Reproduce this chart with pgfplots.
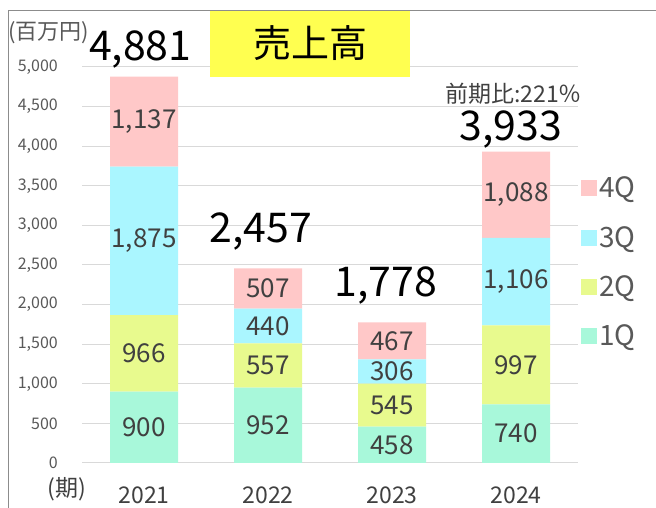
\documentclass[border=0pt]{standalone}
\usepackage{fontspec}
\setmainfont{Noto Sans CJK JP}
\usepackage{pgfplots}
\pgfplotsset{compat=1.18}
\usepackage{pgfplotstable}

\definecolor{qone}{HTML}{A8F8DA}
\definecolor{qtwo}{HTML}{E8FA8E}
\definecolor{qthree}{HTML}{AAF6FF}
\definecolor{qfour}{HTML}{FFC8C8}
\definecolor{gridc}{HTML}{D9D9D9}
\definecolor{tickc}{HTML}{595959}
\definecolor{labc}{HTML}{404040}
\definecolor{titley}{HTML}{FFFF50}
\definecolor{framec}{HTML}{8C8C8C}

\pgfkeys{/pgf/number format/assume math mode=true}

\pgfplotstableread{
x q1 q2 q3 q4
0 900 966 1875 1137
1 952 557 440 507
2 458 545 306 467
3 740 997 1106 1088
}\sales

\pgfplotstableread{
x y v
0 450 900
0 1383 966
0 2803.5 1875
0 4309.5 1137
1 476 952
1 1230.5 557
1 1729 440
1 2202.5 507
2 229 458
2 730.5 545
2 1156 306
2 1542.5 467
3 370 740
3 1238.5 997
3 2290 1106
3 3387 1088
}\seglabels

\pgfplotstableread{
x y v
-0.03 5227 4881
0.94 2917 2457
1.95 2247 1778
2.96 4215 3933
}\totals

\pgfplotsset{base/.style={
  scale only axis, width=496pt, height=396pt,
  xmin=-0.5, xmax=3.5, ymin=0, ymax=5000,
  at={(82pt,45pt)}, anchor=south west, clip=false,
  /pgf/number format/assume math mode=true}}

\begin{document}
\begin{tikzpicture}
\useasboundingbox (0pt,0pt) rectangle (656pt,508pt);
\fill[white] (0pt,0pt) rectangle (656pt,508pt);

\begin{axis}[base,
  ybar stacked, bar width=68pt,
  axis line style={draw=none},
  major tick length=0pt,
  ymajorgrids, grid style={gridc, line width=1pt},
  ytick={0,500,...,5000},
  xtick={0,1,2,3}, xticklabels={2021,2022,2023,2024},
  yticklabel style={font=\fontsize{16}{18}\selectfont, text=tickc, anchor=east, inner sep=0pt, xshift=-24pt},
  xticklabel style={font=\fontsize{23}{26}\selectfont, text=labc, anchor=center, inner sep=0pt, yshift=-32pt},
  legend image code/.code={\fill[#1] (0pt,-8pt) rectangle (16pt,8pt);},
  reverse legend,
  legend cell align=left,
  legend style={draw=none, fill=none, at={(1.0,0.733)}, anchor=north west,
    font=\fontsize{28}{30}\selectfont, text=tickc, row sep=23pt,
    /tikz/every even column/.append style={column sep=4pt}},
]
\addplot[fill=qone, draw=none] table[x=x,y=q1]{\sales};
\addplot[fill=qtwo, draw=none] table[x=x,y=q2]{\sales};
\addplot[fill=qthree, draw=none] table[x=x,y=q3]{\sales};
\addplot[fill=qfour, draw=none] table[x=x,y=q4]{\sales};
\legend{1Q,2Q,3Q,4Q}
\end{axis}

\begin{axis}[base, hide axis]
\addplot[draw=none, mark=none, nodes near coords, nodes near coords align=center,
  point meta=explicit,
  every node near coord/.append style={font=\fontsize{26}{30}\selectfont, text=labc, anchor=center}]
  table[x=x,y=y,meta=v]{\seglabels};
\addplot[draw=none, mark=none, nodes near coords, nodes near coords align=center,
  point meta=explicit,
  every node near coord/.append style={font=\fontsize{41}{46}\selectfont, text=black, anchor=center}]
  table[x=x,y=y,meta=v]{\totals};
\node[font=\fontsize{23}{26}\selectfont, text=labc, anchor=center] at (axis cs:2.98,4665) {前期比:221％};
\end{axis}

\node[fill=titley, minimum width=200pt, minimum height=67pt, inner sep=0pt,
  font=\fontsize{38}{42}\selectfont, anchor=center] at (310pt,464.5pt) {売上高};
\draw[framec, line width=1.5pt] (8.5pt,0pt) -- (8.5pt,497.5pt) -- (656pt,497.5pt);
\node[font=\fontsize{22}{26}\selectfont, text=tickc, anchor=center] at (49pt,475pt) {(百万円)};
\node[font=\fontsize{23}{26}\selectfont, text=labc, anchor=center] at (67pt,19pt) {(期)};
\end{tikzpicture}
\end{document}
